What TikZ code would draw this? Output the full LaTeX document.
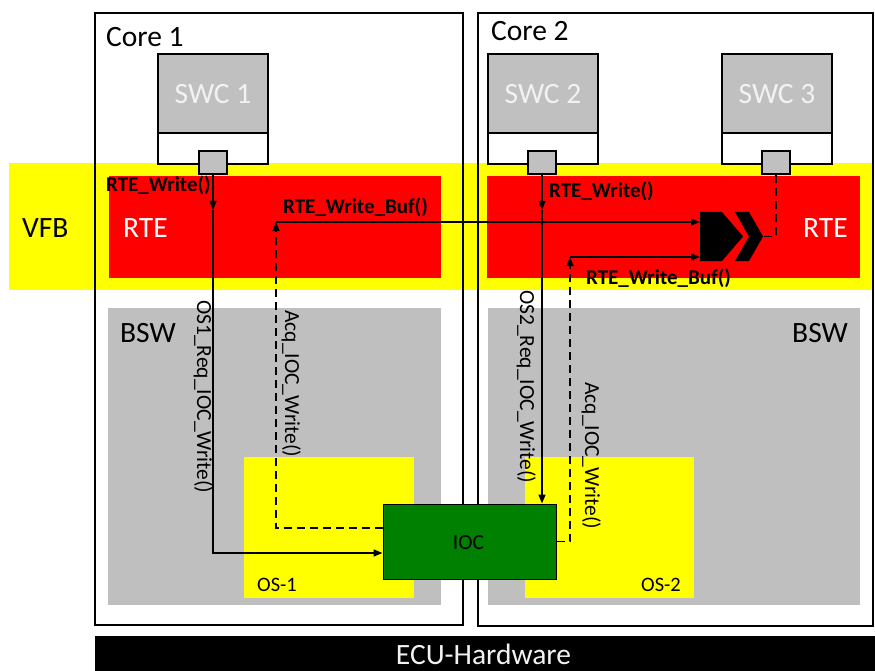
\documentclass[tikz,border=0pt]{standalone}
\usepackage{fontspec}
\setmainfont{Carlito}
\usetikzlibrary{arrows.meta,calc}

\definecolor{vfbyellow}{RGB}{255,255,0}
\definecolor{rtered}{RGB}{255,0,0}
\definecolor{bswgray}{RGB}{191,191,191}
\definecolor{swcgray}{RGB}{192,192,192}
\definecolor{iocgreen}{RGB}{0,128,0}
\definecolor{lighttext}{RGB}{242,242,242}

\tikzset{
  corebox/.style={draw=black,line width=2.2pt},
  swcbody/.style={draw=black,line width=2.5pt,fill=swcgray,minimum width=110pt,minimum height=79pt,inner sep=0pt},
  swcfoot/.style={draw=black,line width=2.5pt,fill=white,minimum width=110pt,minimum height=31pt,inner sep=0pt},
  port/.style={draw=black,line width=2.5pt,fill=swcgray,minimum width=28pt,minimum height=23pt,inner sep=0pt},
  bigtext/.style={inner sep=0pt,font=\fontsize{29.5}{34}\selectfont},
  calltext/.style={inner sep=0pt,font=\bfseries\fontsize{21}{24}\selectfont},
  vertext/.style={inner sep=0pt,rotate=-90,font=\fontsize{21.5}{24}\selectfont},
  ostext/.style={inner sep=0pt,font=\fontsize{20.5}{24}\selectfont},
  tip/.style={-{Triangle[length=9pt,width=7pt]}},
  conn/.style={line width=1.6pt,tip},
  dsh/.style={line width=1.6pt,dash pattern=on 8pt off 5pt},
}

\begin{document}
\begin{tikzpicture}[x=1pt,y=-1pt]
\useasboundingbox (0,0) rectangle (875,671);

% core backgrounds
\fill[white] (95,13) rectangle (463,625);
\fill[white] (478,13) rectangle (873,626);

% VFB band and RTE layers
\fill[vfbyellow] (9,163) rectangle (872,290);
\fill[rtered] (109,176) rectangle (441,278);
\fill[rtered] (487,176) rectangle (860,278);

% BSW layers with operating systems
\fill[bswgray] (108,308) rectangle (441,605);
\fill[bswgray] (488,308) rectangle (860,605);
\fill[vfbyellow] (244,457) rectangle (414,598);
\fill[vfbyellow] (525,457) rectangle (694,598);

% core borders
\draw[corebox] (95,13) rectangle (463,625);
\draw[corebox] (478,13) rectangle (873,626);

% ECU hardware
\fill[black] (95,636) rectangle (875,671);
\node[bigtext,text=lighttext,anchor=base] (ecu) at (483.5,664) {ECU-Hardware};

% layer labels
\node[bigtext,anchor=base west] (core1) at (106,47) {Core 1};
\node[bigtext,anchor=base west] (core2) at (491,41) {Core 2};
\node[bigtext,anchor=base west] (vfb) at (22,237) {VFB};
\node[bigtext,text=white,anchor=base west] (rte1) at (123,237) {RTE};
\node[bigtext,text=white,anchor=base west] (rte2) at (803,237) {RTE};
\node[bigtext,anchor=base west] (bsw1) at (120,342) {BSW};
\node[bigtext,anchor=base west] (bsw2) at (792,342) {BSW};
\node[ostext,anchor=base west] (os1) at (257,591) {OS-1};
\node[ostext,anchor=base west] (os2) at (641,591) {OS-2};

% software components
\node[swcfoot] (f1) at (213,148.5) {};
\node[swcbody] (s1) at (213,93.5) {};
\node[bigtext,text=lighttext,anchor=base] at (213,104) {SWC 1};
\node[port] (p1) at (213,162.5) {};

\node[swcfoot] (f2) at (543,148.5) {};
\node[swcbody] (s2) at (543,93.5) {};
\node[bigtext,text=lighttext,anchor=base] at (543,104) {SWC 2};
\node[port] (p2) at (542,162.5) {};

\node[swcfoot] (f3) at (777,148.5) {};
\node[swcbody] (s3) at (777,93.5) {};
\node[bigtext,text=lighttext,anchor=base] at (777,104) {SWC 3};
\node[port] (p3) at (776,162.5) {};

% sender/receiver interface symbol
\fill[black] (700,212) -- (722,212) -- (743,236.5) -- (722,261) -- (700,261) -- cycle;
\fill[black] (735,212) -- (749,212) -- (763,236.5) -- (749,261) -- (735,261) -- (749,236.5) -- cycle;
\coordinate (inA) at (700,221);
\coordinate (inB) at (700,257);
\coordinate (chevtip) at (763,236.5);

% IOC
\node[draw=black,line width=1pt,fill=iocgreen,minimum width=173pt,minimum height=75pt,inner sep=0pt] (ioc) at (469.5,541.5) {};
\node[inner sep=0pt,font=\fontsize{21.5}{24}\selectfont,anchor=base] at (468.5,549) {IOC};

% call paths core 1
\coordinate (w1) at (213,210);
\draw[conn] (p1.south) -- (w1);
\draw[conn] (w1) |- ($(ioc.west)+(0,11.5)$);
\node[calltext,anchor=base west] at (106,192) {RTE\_Write()};
\node[vertext,anchor=base west] at (197,300) {OS1\_Req\_IOC\_Write()};

\coordinate (k1) at (276,222);
\draw[dsh,tip] ($(ioc.west)+(0,-13.5)$) -| (k1);
\draw[conn] (k1) -- (inA |- k1);
\node[calltext,anchor=base west] at (283,214) {RTE\_Write\_Buf()};
\node[vertext,anchor=base west] at (285,310) {Acq\_IOC\_Write()};

% call paths core 2
\coordinate (w2) at (542,210);
\draw[conn] (p2.south) -- (w2);
\draw[conn] (w2) -- (w2 |- ioc.north);
\node[calltext,anchor=base west] at (549,197) {RTE\_Write()};
\node[vertext,anchor=base west] at (520,290) {OS2\_Req\_IOC\_Write()};

\coordinate (k2) at (570,257);
\draw[dsh,tip] (ioc.east) -| (k2);
\draw[conn] (k2) -- (inB);
\node[calltext,anchor=base west] at (586,284) {RTE\_Write\_Buf()};
\node[vertext,anchor=base west] at (585,382) {Acq\_IOC\_Write()};

% receiver of SWC 3
\draw[dsh] (p3.south) |- (chevtip);
\end{tikzpicture}
\end{document}
